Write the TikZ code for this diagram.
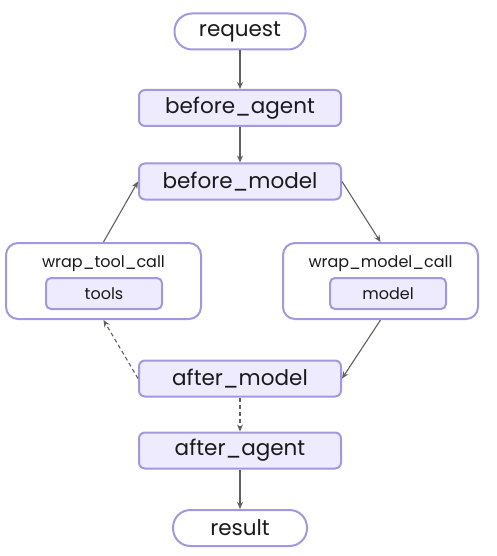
\documentclass[tikz,border=0pt]{standalone}
\usepackage{fontspec}
\setmainfont{Poppins}
\usetikzlibrary{arrows.meta}
\definecolor{boxfill}{HTML}{EDEBFD}
\definecolor{boxdraw}{HTML}{A398DE}
\definecolor{arrowc}{HTML}{606060}
\definecolor{txt}{HTML}{1A1A1A}
\newcommand{\lowtext}[2][-3pt]{\raisebox{#1}{#2}}
\tikzset{
  base/.style={draw=boxdraw, line width=2pt, inner sep=0pt, text=txt},
  stage/.style={base, fill=boxfill, rounded corners=6pt, minimum width=202pt, minimum height=36pt, font=\fontsize{21.5}{24}\selectfont},
  term/.style={base, fill=white, rounded corners=17.5pt, minimum height=36pt, font=\fontsize{21.5}{24}\selectfont},
  wrapbox/.style={base, fill=white, rounded corners=12pt, minimum width=195pt, minimum height=76pt},
  inner/.style={base, fill=boxfill, rounded corners=5pt, minimum height=31pt, font=\fontsize{16}{19}\selectfont},
  wraplabel/.style={text=txt, font=\fontsize{16}{19}\selectfont, inner sep=0pt},
  conn/.style={draw=arrowc, line width=1.1pt, -{Stealth[length=7pt,width=6pt]}},
  dconn/.style={conn, dash pattern=on 4pt off 3pt}
}
\begin{document}
\begin{tikzpicture}[x=1pt,y=-1pt]
\useasboundingbox (0,0) rectangle (496,556);
\node[term, minimum width=131pt] (req) at (240,31.5) {\lowtext{request}};
\node[stage] (ba) at (240,108) {\lowtext{before\_agent}};
\node[stage] (bm) at (240,181.5) {\lowtext{before\_model}};
\node[wrapbox] (wtc) at (103.5,281) {};
\node[wraplabel] (wtcl) at (103.5,263.5) {wrap\_tool\_call};
\node[inner, minimum width=116pt] (tools) at (104,293.5) {\lowtext[-2pt]{tools}};
\node[wrapbox] (wmc) at (380.5,281) {};
\node[wraplabel] (wmcl) at (380.5,263.5) {wrap\_model\_call};
\node[inner, minimum width=116pt] (model) at (388,293.5) {\lowtext[-2pt]{model}};
\node[stage] (am) at (240,378.5) {\lowtext{after\_model}};
\node[stage] (aa) at (240,450.5) {\lowtext{after\_agent}};
\node[term, minimum width=134pt] (res) at (240,528) {\lowtext{result}};
\draw[conn] (req) -- (ba);
\draw[conn] (ba) -- (bm);
\draw[conn] (bm.east) -- (wmc.north);
\draw[conn] (wmc.south) -- (am.east);
\draw[dconn] (am.west) -- (wtc.south);
\draw[conn] (wtc.north) -- (bm.west);
\draw[dconn] (am) -- (aa);
\draw[conn] (aa) -- (res);
\end{tikzpicture}
\end{document}
